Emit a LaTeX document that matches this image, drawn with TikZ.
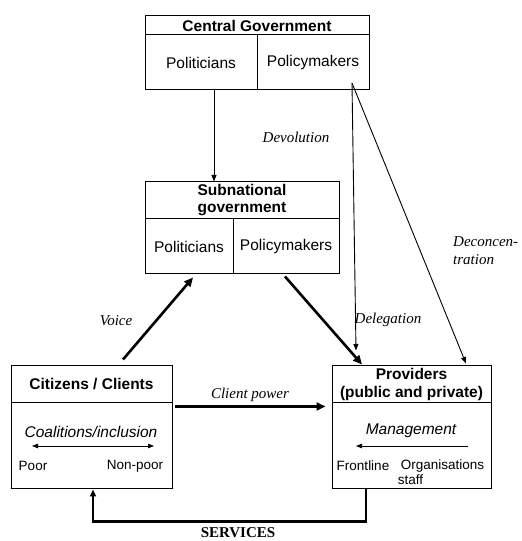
\documentclass[tikz,border=0pt]{standalone}
\usepackage{fontspec}
\setmainfont{Liberation Serif}
\setsansfont{Liberation Sans}
\usetikzlibrary{arrows.meta,calc}

\tikzset{
  boxfont/.style={font=\sffamily\fontsize{15.5}{17.5}\selectfont},
  smallfont/.style={font=\sffamily\fontsize{13.5}{15}\selectfont},
  labelfont/.style={font=\rmfamily\itshape\fontsize{15}{17.5}\selectfont},
  part/.style 2 args={draw, line width=1pt, minimum width=#1, minimum height=#2,
    inner sep=0pt, align=center, boxfont},
  txt/.style={inner sep=0pt, smallfont},
  lbl/.style={inner sep=0pt, labelfont},
  thinarrow/.style={line width=0.9pt, -{Triangle[length=6.5pt,width=5pt]}},
  thickarrow/.style={line width=2.6pt, -{Triangle[length=9pt,width=8pt]}},
  innerarrow/.style={line width=0.8pt},
}

\begin{document}
\begin{tikzpicture}[x=1pt,y=1pt]
\useasboundingbox (0,0) rectangle (522,541);

% Central government
\node[part={224pt}{19pt}, font=\sffamily\bfseries\fontsize{15.5}{17.5}\selectfont] (cgh) at (257,515.5) {Central Government};
\node[part={112pt}{55pt}] (cgpol) at (201,478.5) {Politicians};
\node[part={112pt}{55pt}] (cgpm) at (313,478.5) {Policymakers};

% Subnational government
\node[part={194pt}{37pt}, font=\sffamily\bfseries\fontsize{15.5}{17}\selectfont] (snh) at (242,340.5) {Subnational\\government};
\node[part={88pt}{55pt}] (snpol) at (189,294.5) {Politicians};
\node[part={106pt}{55pt}] (snpm) at (286,294.5) {Policymakers};

% Citizens / clients
\node[part={161pt}{37pt}, font=\sffamily\bfseries\fontsize{15.5}{17.5}\selectfont] (cith) at (91.5,156.5) {Citizens / Clients};
\node[part={161pt}{86pt}] (citb) at (91.5,95) {};
\node[inner sep=0pt, font=\sffamily\itshape\fontsize{15.5}{17.5}\selectfont] (coal) at (91,109) {Coalitions/inclusion};
\node[txt] (poor) at (33,75) {Poor};
\node[txt] (nonpoor) at (135,75) {Non-poor};
\coordinate (cl) at (32,95);
\coordinate (cr) at (154,95);
\draw[innerarrow, {Triangle[length=6pt,width=4.5pt]}-{Triangle[length=6pt,width=4.5pt]}] (cl) -- (cr);

% Providers
\node[part={159pt}{37pt}, font=\sffamily\bfseries\fontsize{15.5}{18}\selectfont] (prh) at (411.5,156.5) {Providers\\(public and private)};
\node[part={159pt}{86pt}] (prb) at (411.5,95) {};
\node[inner sep=0pt, font=\sffamily\itshape\fontsize{15.5}{17.5}\selectfont] (mgmt) at (411,110) {Management};
\node[txt] (front) at (363,75) {Frontline};
\node[txt] (orgs) at (442.5,75) {Organisations};
\node[txt] (staff) at (410.5,61) {staff};
\coordinate (ml) at (356,95);
\coordinate (mr) at (468,95);
\draw[innerarrow, -{Triangle[length=6pt,width=4.5pt]}] (mr) -- (ml);

% Accountability relations
\coordinate (pmc) at (352,458);
\draw[thinarrow] ([xshift=13pt]cgpol.south) -- ([xshift=13pt]cgpol.south |- snh.north);
\draw[thinarrow] (pmc) -- ([xshift=-55.5pt,yshift=15pt]prh.north);
\draw[thinarrow] (pmc) -- ([xshift=54.5pt,yshift=2pt]prh.north);
\draw[thickarrow] ([xshift=-1pt,yshift=-2pt]snpm.south) -- ([xshift=-49.5pt,yshift=1pt]prh.north);
\draw[thickarrow] ([xshift=31.5pt,yshift=6pt]cith.north) -- ([xshift=4pt,yshift=-3pt]snpol.south);
\draw[thickarrow] ([xshift=2pt,yshift=-4pt]citb.north east) -- ([xshift=-6pt,yshift=-4pt]prb.north west);
\draw[line width=2.6pt, line join=miter, -{Triangle[length=7pt,width=6pt]}]
  ([xshift=-45.5pt]prb.south) -- ++(0,-32) -| ([xshift=1.5pt]citb.south);

% Labels
\node[lbl] (devo) at (296,404) {Devolution};
\node[lbl] (dele) at (388,221) {Delegation};
\node[lbl, anchor=west] (deco1) at (453,299) {Deconcen-};
\node[lbl, anchor=west] (deco2) at (453,281) {tration};
\node[lbl] (voice) at (116,220) {Voice};
\node[lbl] (cpow) at (250,146) {Client power};
\node[inner sep=0pt, font=\rmfamily\bfseries\fontsize{15}{17.5}\selectfont] (serv) at (238,8.5) {SERVICES};
\end{tikzpicture}
\end{document}
